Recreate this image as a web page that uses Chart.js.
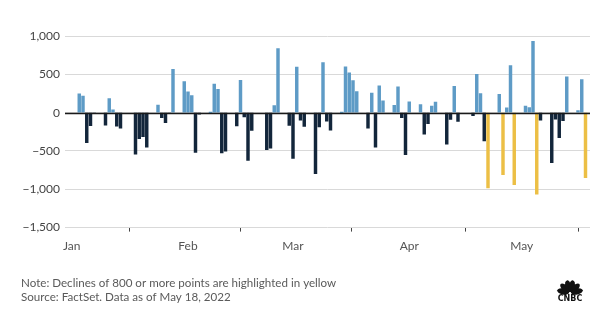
<!DOCTYPE html>
<html>
<head>
<meta charset="utf-8">
<script src="https://cdn.jsdelivr.net/npm/chart.js@4"></script>
<style>
  html, body { margin: 0; padding: 0; background: #fff; }
  #wrap { width: 608px; height: 330px; position: relative; }
</style>
</head>
<body>
<div id="wrap"><canvas id="myChart"></canvas></div>
<script>
// Dow daily point changes, 2022
const dates = [
  '01-03','01-04','01-05','01-06','01-07','01-10','01-11','01-12','01-13','01-14',
  '01-18','01-19','01-20','01-21','01-24','01-25','01-26','01-27','01-28','01-31',
  '02-01','02-02','02-03','02-04','02-07','02-08','02-09','02-10','02-11','02-14',
  '02-15','02-16','02-17','02-18','02-22','02-23','02-24','02-25','02-28',
  '03-01','03-02','03-03','03-04','03-07','03-08','03-09','03-10','03-11','03-14',
  '03-15','03-16','03-17','03-18','03-21','03-22','03-23','03-24','03-25','03-28',
  '03-29','03-30','03-31',
  '04-01','04-04','04-05','04-06','04-07','04-08','04-11','04-12','04-13','04-14',
  '04-18','04-19','04-20','04-21','04-22','04-25','04-26','04-27','04-28','04-29',
  '05-02','05-03','05-04','05-05','05-06','05-09','05-10','05-11','05-12','05-13',
  '05-16','05-17','05-18'
];
const changes = [
  247, 215, -393, -171, -5, -163, 183, 38, -177, -202,
  -543, -340, -313, -450, 99, -67, -130, -7, 565, 406,
  273, 224, -518, -21, 1, 372, 305, -526, -504, -172,
  423, -55, -622, -233, -483, -465, 92, 835, -166,
  -598, 596, -97, -180, -797, -185, 654, -112, -230, 1,
  599, 519, 418, 274, -202, 254, -449, 349, 153, 95,
  338, -65, -550,
  140, 104, -281, -145, 87, 138, -413, -88, 344, -113,
  -40, 500, 250, -368, -981, 238, -809, 62, 614, -939,
  84, 67, 932, -1063, -99, -654, -85, -327, -104, 466,
  27, 431, -850
];
const monthTicks = [0, 31, 59, 90, 120];
const monthLabels = ['Jan', 'Feb', 'Mar', 'Apr', 'May'];
const yTicks = [1000, 500, 0, -500, -1000, -1500];

const monthStart = [0, 31, 59, 90, 120];
function dayOf(s) {
  const [m, d] = s.split('-').map(Number);
  return monthStart[m - 1] + d - 1;
}

const UP = '#5e9bc6';
const DOWN = '#13263b';
const BIG = '#ecbf45';

function fmt(v) {
  const s = Math.abs(v).toLocaleString('en-US');
  return v < 0 ? '\u2212' + s : s;
}

const zeroLine = {
  id: 'zeroLine',
  afterDatasetsDraw(chart) {
    const { ctx, chartArea, scales } = chart;
    const y = Math.round(scales.y.getPixelForValue(0)) + 0.5;
    ctx.save();
    ctx.strokeStyle = '#1a1a1a';
    ctx.lineWidth = 1.3;
    ctx.beginPath();
    ctx.moveTo(chartArea.left, y);
    ctx.lineTo(chartArea.right, y);
    ctx.stroke();
    ctx.restore();
  }
};

const notes = {
  id: 'notes',
  afterDraw(chart) {
    const ctx = chart.ctx;
    ctx.save();
    ctx.fillStyle = '#5a5a5a';
    ctx.font = '11.6px Lato';
    ctx.textBaseline = 'middle';
    ctx.fillText('Note: Declines of 800 or more points are highlighted in yellow', 21, 283);
    ctx.fillText('Source: FactSet. Data as of May 18, 2022', 21, 297);

    // simple peacock mark
    const cx = 570, cy = 293;
    ctx.fillStyle = '#111';
    const angles = [-168, -136, -104, -76, -44, -12];
    angles.forEach(a => {
      const r = a * Math.PI / 180;
      ctx.beginPath();
      ctx.ellipse(cx + Math.cos(r) * 7, cy + Math.sin(r) * 7, 6, 3, r, 0, Math.PI * 2);
      ctx.fill();
    });
    ctx.font = 'bold 8px "DejaVu Sans"';
    ctx.textAlign = 'center';
    ctx.fillText('CNBC', cx, 299);
    ctx.restore();
  }
};

const ctx = document.getElementById('myChart').getContext('2d');
const myChart = new Chart(ctx, {
  type: 'bar',
  data: {
    datasets: [{
      data: dates.map((d, i) => ({ x: dayOf(d), y: changes[i] })),
      backgroundColor: changes.map(v => v > 0 ? UP : (v <= -800 ? BIG : DOWN)),
      barThickness: 2.8,
      borderWidth: 0,
    }],
  },
  options: {
    responsive: true,
    maintainAspectRatio: false,
    animation: false,
    layout: { padding: { top: 36, right: 18, bottom: 70, left: 0 } },
    plugins: {
      legend: { display: false },
      tooltip: { enabled: false },
    },
    scales: {
      x: {
        type: 'linear',
        min: -1.8,
        max: 138.2,
        offset: false,
        afterBuildTicks: (scale) => {
          scale.ticks = monthTicks.map(v => ({ value: v }));
        },
        grid: {
          drawOnChartArea: false,
          drawTicks: true,
          tickLength: 4,
          color: '#444',
        },
        border: { display: false },
        ticks: {
          padding: 7,
          autoSkip: false,
          maxRotation: 0,
          color: '#555',
          font: { family: 'Lato', size: 12 },
          callback: (v) => monthLabels[monthTicks.indexOf(v)],
        },
      },
      y: {
        min: -1500,
        max: 1000,
        afterBuildTicks: (scale) => {
          scale.ticks = yTicks.map(v => ({ value: v }));
        },
        afterFit: (scale) => { scale.width = 65; },
        grid: {
          drawTicks: false,
          color: '#d9d9d9',
        },
        border: { display: false },
        ticks: {
          padding: 5,
          color: '#444',
          font: { family: 'Lato', size: 12 },
          callback: (v) => fmt(v),
        },
      },
    },
  },
  plugins: [zeroLine, notes],
});
</script>
</body>
</html>
